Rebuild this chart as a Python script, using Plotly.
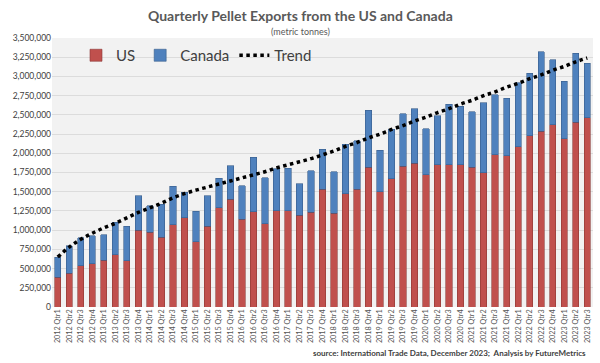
import plotly.graph_objects as go

quarters = [f"{y} Qtr{q}" for y in range(2012, 2024) for q in range(1, 5)][:47]

us = [390000, 440000, 535000, 560000, 610000, 680000, 600000, 1000000, 970000, 910000,
      1070000, 1160000, 850000, 1050000, 1290000, 1400000, 1145000, 1240000, 1080000, 1250000,
      1250000, 1195000, 1230000, 1535000, 1220000, 1475000, 1535000, 1820000, 1500000, 1670000,
      1830000, 1870000, 1720000, 1850000, 1850000, 1850000, 1820000, 1745000, 1980000, 1965000,
      2085000, 2230000, 2290000, 2370000, 2190000, 2405000, 2460000]

total = [650000, 800000, 900000, 930000, 940000, 1100000, 1050000, 1450000, 1320000, 1335000,
         1570000, 1490000, 1245000, 1450000, 1675000, 1840000, 1580000, 1950000, 1680000, 1800000,
         1805000, 1605000, 1775000, 2050000, 1760000, 2120000, 2160000, 2560000, 2040000, 2310000,
         2515000, 2580000, 2320000, 2490000, 2640000, 2615000, 2540000, 2660000, 2760000, 2715000,
         2915000, 3040000, 3320000, 3215000, 2940000, 3300000, 3170000]

canada = [t - u for t, u in zip(total, us)]

trend = [650000, 780000, 880000, 960000, 1030000, 1090000, 1160000, 1230000, 1290000, 1350000,
         1420000, 1475000, 1520000, 1560000, 1600000, 1640000, 1680000, 1720000, 1760000, 1810000,
         1850000, 1890000, 1930000, 1980000, 2030000, 2090000, 2140000, 2200000, 2250000, 2310000,
         2360000, 2420000, 2470000, 2530000, 2580000, 2640000, 2690000, 2750000, 2800000, 2860000,
         2910000, 2970000, 3020000, 3080000, 3130000, 3190000, 3240000]

FONT = "Lato"
W, H = 600, 363
ML, MR, MT, MB = 52, 7, 38, 56
plot_h = H - MT - MB
plot_w = W - ML - MR
def py(pix):
    return (H - MB - pix) / plot_h
def px(pix):
    return (pix - ML) / plot_w

fig = go.Figure()
fig.add_trace(go.Bar(x=quarters, y=us, name="US",
                     marker=dict(color="#c0504d", line=dict(color="#8c3836", width=0.6))))
fig.add_trace(go.Bar(x=quarters, y=canada, name="Canada",
                     marker=dict(color="#4f81bd", line=dict(color="#385d8a", width=0.6))))
fig.add_trace(go.Scatter(x=quarters, y=trend, name="Trend", mode="lines",
                         line=dict(color="black", width=3.5, dash="dot", shape="spline")))

fig.update_layout(
    width=W, height=H,
    barmode="stack", bargap=0.45,
    margin=dict(l=ML, r=MR, t=MT, b=MB),
    paper_bgcolor="white", plot_bgcolor="#f2f2f2",
    font=dict(family=FONT, color="#404040"),
    showlegend=True,
    legend=dict(orientation="h", x=px(76), y=py(39), xanchor="left", yanchor="top",
                bgcolor="rgba(0,0,0,0)", font=dict(size=15, color="#404040", family=FONT),
                itemwidth=30, traceorder="normal", tracegroupgap=0),
    annotations=[
        dict(text="<b>Quarterly Pellet Exports from the US and Canada</b>", x=px(300), y=py(15),
             xref="paper", yref="paper", showarrow=False, xanchor="center", yanchor="middle",
             font=dict(size=14, color="#595959", family=FONT)),
        dict(text="(metric tonnes)", x=px(300), y=py(31), xref="paper", yref="paper", showarrow=False,
             xanchor="center", yanchor="middle", font=dict(size=9, color="#595959", family=FONT)),
        dict(text="<b>source: International Trade Data, December 2023;  Analysis by FutureMetrics</b>",
             x=px(588), y=py(353), xref="paper", yref="paper", showarrow=False,
             xanchor="right", yanchor="middle", font=dict(size=8, color="#404040", family=FONT)),
    ],
)

fig.update_yaxes(range=[0, 3500000], dtick=250000, tickformat=",", showgrid=True,
                 gridcolor="#dcdcdc", gridwidth=1, zeroline=False,
                 tickfont=dict(size=8.5, color="#404040", family=FONT), ticks="", ticklen=0)
fig.update_xaxes(tickangle=-90, tickfont=dict(size=7.2, color="#555555", family=FONT),
                 showgrid=False, ticks="", type="category", showline=False, automargin=False)

fig.write_html("out.html", config={"displayModeBar": False},
               post_script="document.body.style.margin='0';document.body.style.overflow='hidden';")
